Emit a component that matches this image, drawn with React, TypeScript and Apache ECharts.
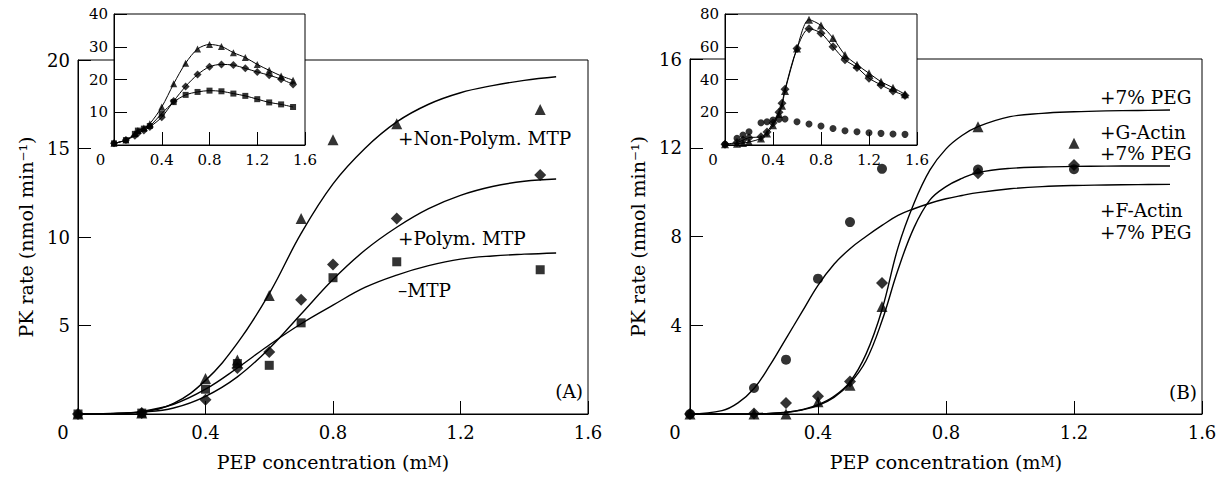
import React, { useEffect, useRef } from "react";
import * as echarts from "echarts";

// ---------- Panel A (main) ----------
const xA = [0, 0.2, 0.4, 0.5, 0.6, 0.7, 0.8, 1.0, 1.45];
const nonPolymPts = [0, 0.05, 2.0, 3.05, 6.7, 11.05, 15.5, 16.4, 17.2];
const polymPts = [0, 0.05, 0.8, 2.6, 3.5, 6.45, 8.45, 11.05, 13.5];
const minusMtpPts = [0, 0.05, 1.4, 2.85, 2.75, 5.15, 7.7, 8.6, 8.15];

const xFitA = [0, 0.1, 0.2, 0.3, 0.4, 0.5, 0.6, 0.7, 0.8, 0.9, 1.0, 1.1, 1.2, 1.3, 1.4, 1.5];
const nonPolymFit = [0, 0.02, 0.12, 0.6, 1.9, 4.0, 6.8, 10.2, 13.0, 15.0, 16.5, 17.5, 18.15, 18.55, 18.85, 19.05];
const polymFit = [0, 0.02, 0.1, 0.34, 1.0, 2.1, 3.7, 5.65, 7.6, 9.25, 10.55, 11.6, 12.35, 12.85, 13.15, 13.28];
const minusMtpFit = [0, 0.03, 0.15, 0.55, 1.4, 2.6, 3.9, 5.1, 6.15, 7.15, 7.85, 8.38, 8.75, 8.93, 9.03, 9.1];

// ---------- Panel A (inset) ----------
const xInsetA = [0, 0.1, 0.175, 0.2, 0.25, 0.3, 0.4, 0.5, 0.6, 0.7, 0.8, 0.9, 1.0, 1.1, 1.2, 1.3, 1.4, 1.5];
const insetNonPolym = [0.5, 1.5, 3.4, 4.4, 5.2, 6.5, 11.6, 18.7, 25.0, 29.3, 30.7, 30.1, 28.2, 26.7, 24.6, 22.8, 21.1, 19.8];
const insetPolym = [0.5, 1.5, 2.8, 3.6, 4.4, 5.5, 8.5, 13.4, 17.9, 21.5, 23.9, 24.6, 24.4, 23.4, 22.3, 21.3, 20.1, 18.5];
const insetMinusMtp = [0.5, 1.5, 3.4, 4.4, 5.0, 5.8, 9.6, 13.1, 15.3, 16.2, 16.6, 16.4, 15.7, 15.0, 14.0, 13.0, 12.4, 11.6];

// ---------- Panel B (main) ----------
const xB = [0, 0.2, 0.3, 0.4, 0.5, 0.6, 0.9, 1.2];
const pegPts = [0, 0, 0, 0.55, 1.3, 4.85, 12.95, 12.2];
const gActinPts = [0, 0.02, 0.5, 0.8, 1.47, 5.9, 10.85, 11.22];
const fActinPts = [0, 1.17, 2.45, 6.1, 8.65, 11.05, 11.02, 11.03];

const xFitB = [0, 0.1, 0.15, 0.2, 0.25, 0.3, 0.35, 0.4, 0.45, 0.5, 0.55, 0.6, 0.65, 0.7, 0.75, 0.8, 0.85, 0.9, 1.0, 1.1, 1.2, 1.3, 1.4, 1.5];
const pegFit = [0, 0, 0, 0.01, 0.03, 0.08, 0.2, 0.42, 0.8, 1.45, 2.7, 4.7, 7.5, 9.5, 11.0, 11.95, 12.55, 12.95, 13.4, 13.55, 13.62, 13.66, 13.68, 13.7];
const gActinFit = [0, 0, 0, 0.01, 0.03, 0.07, 0.18, 0.38, 0.75, 1.38, 2.4, 4.2, 6.5, 8.4, 9.65, 10.25, 10.62, 10.88, 11.07, 11.13, 11.16, 11.17, 11.18, 11.18];
const fActinFit = [0, 0.15, 0.5, 1.15, 2.2, 3.4, 4.6, 5.8, 6.75, 7.45, 8.0, 8.5, 8.95, 9.25, 9.5, 9.7, 9.85, 9.98, 10.15, 10.25, 10.3, 10.32, 10.34, 10.35];

// ---------- Panel B (inset) ----------
const xInsetBCircle = [0, 0.1, 0.15, 0.2, 0.3, 0.35, 0.4, 0.45, 0.5, 0.6, 0.7, 0.8, 0.9, 1.0, 1.1, 1.2, 1.3, 1.4, 1.5];
const insetFActin = [0.5, 4.1, 6.1, 8.1, 13.6, 14.2, 15.3, 15.7, 15.9, 14.2, 12.8, 11.6, 10.1, 8.7, 8.1, 7.5, 7.1, 6.7, 6.5];
const xInsetB = [0, 0.1, 0.15, 0.2, 0.3, 0.35, 0.4, 0.45, 0.475, 0.5, 0.6, 0.7, 0.8, 0.9, 1.0, 1.1, 1.2, 1.3, 1.4, 1.5];
const insetPeg = [0.5, 0.8, 1.2, 1.8, 4.0, 7.0, 12.0, 19.0, 24.0, 33.0, 59, 76.5, 73, 65.3, 55, 49, 43.8, 38.7, 35, 31];
const insetGActin = [0.5, 1.5, 3.0, 4.5, 5.0, 8.0, 13.5, 20.0, 25.5, 34.0, 59, 71, 68.3, 60, 52, 47.3, 40.8, 36.7, 33, 30.2];

const FONT = '"DejaVu Serif", "Liberation Serif", serif';

const zip = (xs: number[], ys: number[]) => xs.map((x, i) => [x, ys[i]]);

function xAxisCfg(gridIndex: number, fontSize: number, zeroPad: number, inset: boolean) {
  return {
    type: "value",
    gridIndex,
    min: 0,
    max: 1.6,
    interval: 0.4,
    z: inset ? 6 : 0,
    axisLine: { show: true, lineStyle: { color: "#000", width: 1 } },
    axisTick: { show: true, inside: true, length: 13, lineStyle: { color: "#000", width: 1 } },
    splitLine: { show: false },
    axisLabel: {
      color: "#000",
      fontFamily: FONT,
      fontSize,
      margin: inset ? 7 : 9,
      showMaxLabel: true,
      showMinLabel: true,
      formatter: (v: number) => (v === 0 ? "{z|0}" : v.toFixed(1)),
      rich: { z: { padding: [0, zeroPad, 0, 0], fontSize, fontFamily: FONT, color: "#000" } },
    },
  };
}

function yAxisCfg(gridIndex: number, max: number, interval: number, fontSize: number, inset: boolean, name?: string) {
  return {
    type: "value",
    gridIndex,
    min: 0,
    max,
    interval,
    z: inset ? 6 : 0,
    name: name || "",
    nameLocation: "middle",
    nameGap: 43,
    nameRotate: 90,
    nameTextStyle: { color: "#000", fontFamily: FONT, fontSize: 19 },
    axisLine: { show: true, lineStyle: { color: "#000", width: 1 } },
    axisTick: { show: true, inside: true, length: 13, lineStyle: { color: "#000", width: 1 } },
    splitLine: { show: false },
    axisLabel: {
      color: "#000",
      fontFamily: FONT,
      fontSize,
      margin: inset ? 6 : 8,
      showMaxLabel: true,
      formatter: (v: number) => (v === 0 ? "" : String(v)),
    },
  };
}

function scatter(xi: number, data: number[][], symbol: string, size: number, z = 3) {
  return {
    type: "scatter",
    xAxisIndex: xi,
    yAxisIndex: xi,
    data,
    symbol,
    symbolSize: size,
    itemStyle: { color: "#000" },
    z,
    silent: true,
  };
}

function line(xi: number, data: number[][], opts: any = {}) {
  return {
    type: "line",
    xAxisIndex: xi,
    yAxisIndex: xi,
    data,
    smooth: opts.smooth ?? 0.4,
    showSymbol: false,
    symbol: "none",
    itemStyle: { color: "#000" },
    lineStyle: { color: "#000", width: opts.width || 1.4 },
    z: opts.z || 2,
    silent: true,
  };
}

function label(text: string, x: number, y: number, align = "left") {
  return {
    type: "text",
    x,
    y,
    z: 20,
    style: {
      text,
      x: 0,
      y: 0,
      fill: "#000",
      font: `18.5px ${FONT}`,
      textAlign: align,
      textVerticalAlign: "middle",
    },
  };
}

export default function App() {
  const ref = useRef<HTMLDivElement>(null);

  useEffect(() => {
    if (!ref.current) return;
    const chart = echarts.init(ref.current, undefined, { renderer: "svg" });

    const xName = {
      name: "PEP concentration (m{sc|M})",
      nameLocation: "middle",
      nameGap: 38,
      nameTextStyle: {
        color: "#000",
        fontFamily: FONT,
        fontSize: 19,
        rich: { sc: { fontSize: 14, fontFamily: FONT, color: "#000" } },
      },
    };

    const option: any = {
      animation: false,
      backgroundColor: "#fff",
      grid: [
        { left: 78, top: 60, width: 510, height: 354, show: true, borderColor: "#000", borderWidth: 1, backgroundColor: "transparent", z: 1 },
        { left: 114, top: 14, width: 191, height: 131, show: true, borderColor: "#000", borderWidth: 1, backgroundColor: "#fff", z: 4 },
        { left: 690, top: 59, width: 512, height: 355, show: true, borderColor: "#000", borderWidth: 1, backgroundColor: "transparent", z: 1 },
        { left: 725, top: 14, width: 192, height: 131, show: true, borderColor: "#000", borderWidth: 1, backgroundColor: "#fff", z: 4 },
      ],
      xAxis: [
        { ...xAxisCfg(0, 18, 30, false), ...xName },
        xAxisCfg(1, 15, 27, true),
        { ...xAxisCfg(2, 18, 30, false), ...xName },
        xAxisCfg(3, 15, 24, true),
      ],
      yAxis: [
        yAxisCfg(0, 20, 5, 18, false, "PK rate (nmol min⁻¹)"),
        yAxisCfg(1, 40, 10, 15, true),
        yAxisCfg(2, 16, 4, 18, false, "PK rate (nmol min⁻¹)"),
        yAxisCfg(3, 80, 20, 15, true),
      ],
      series: [
        // Panel A main
        line(0, zip(xFitA, nonPolymFit)),
        line(0, zip(xFitA, polymFit)),
        line(0, zip(xFitA, minusMtpFit)),
        scatter(0, zip(xA, nonPolymPts), "triangle", 11),
        scatter(0, zip(xA, polymPts), "diamond", 12),
        scatter(0, zip(xA, minusMtpPts), "rect", 9),
        // Panel A inset
        line(1, zip(xInsetA, insetNonPolym), { smooth: 0.3, width: 1, z: 6 }),
        line(1, zip(xInsetA, insetPolym), { smooth: 0.3, width: 1, z: 6 }),
        line(1, zip(xInsetA, insetMinusMtp), { smooth: 0.3, width: 1, z: 6 }),
        scatter(1, zip(xInsetA, insetNonPolym), "triangle", 7, 7),
        scatter(1, zip(xInsetA, insetPolym), "diamond", 8, 7),
        scatter(1, zip(xInsetA, insetMinusMtp), "rect", 6, 7),
        // Panel B main
        line(2, zip(xFitB, pegFit)),
        line(2, zip(xFitB, gActinFit)),
        line(2, zip(xFitB, fActinFit)),
        scatter(2, zip(xB, pegPts), "triangle", 11),
        scatter(2, zip(xB, gActinPts), "diamond", 12),
        scatter(2, zip(xB, fActinPts), "circle", 10),
        // Panel B inset
        line(3, zip(xInsetB, insetPeg), { smooth: 0.3, width: 1, z: 6 }),
        line(3, zip(xInsetB, insetGActin), { smooth: 0.3, width: 1, z: 6 }),
        scatter(3, zip(xInsetB, insetPeg), "triangle", 8, 7),
        scatter(3, zip(xInsetB, insetGActin), "diamond", 9, 7),
        scatter(3, zip(xInsetBCircle, insetFActin), "circle", 7, 7),
      ],
      graphic: [
        label("+Non-Polym. MTP", 398, 138),
        label("+Polym. MTP", 398, 238),
        label("–MTP", 398, 290),
        label("(A)", 583, 391, "right"),
        label("+7% PEG", 1100, 97),
        label("+G-Actin", 1100, 132),
        label("+7% PEG", 1100, 153),
        label("+F-Actin", 1100, 210),
        label("+7% PEG", 1100, 232),
        label("(B)", 1197, 392, "right"),
      ],
    };

    chart.setOption(option);
    return () => chart.dispose();
  }, []);

  return (
    <div
      ref={ref}
      style={{ position: "fixed", left: 0, top: 0, width: 1222, height: 477, background: "#fff" }}
    />
  );
}
